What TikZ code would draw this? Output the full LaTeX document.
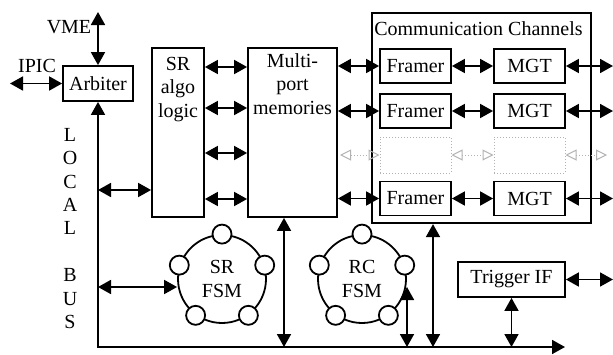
\documentclass[tikz,border=0pt]{standalone}
\usepackage{fontspec}
\setmainfont{Liberation Serif}
\usetikzlibrary{arrows.meta}
\begin{document}
\begin{tikzpicture}[x=1pt,y=-1pt,
  font=\fontsize{20}{23.5}\selectfont,
  box/.style={draw, line width=1.8pt, inner sep=0pt},
  dbl/.style={line width=1.8pt, {Triangle[length=13pt,width=14pt]}-{Triangle[length=13pt,width=14pt]}},
  fadedbox/.style={draw=black!30, dotted, line width=1pt, inner sep=0pt},
  fadedarr/.style={draw=black!30, dotted, line width=1pt, {Triangle[open,length=11pt,width=11pt]}-{Triangle[open,length=11pt,width=11pt]}},
  state/.style={draw, circle, line width=1.8pt, fill=white, minimum size=19pt, inner sep=0pt},
  fsm/.style={draw, circle, line width=1.8pt, minimum size=88pt, inner sep=0pt, align=center},
  txt/.style={inner sep=0pt, align=center}
]
\useasboundingbox (0,0) rectangle (613,354);

% Arbiter and external links
\node[box, minimum width=70pt, minimum height=35pt] (arb) at (98,83.5) {Arbiter};
\node[txt] (vme) at (69,27) {VME};
\coordinate (vmeend) at (98,12);
\draw[dbl] (arb.north) -- (vmeend);
\node[txt] (ipic) at (37,66) {IPIC};
\coordinate (ipicend) at (10,83.5);
\draw[dbl] (arb.west) -- (ipicend);

% local bus label
\node[txt, font=\fontsize{20}{23.4}\selectfont] (lb) at (70,228.5) {L\\O\\C\\A\\L\\[23.4pt]B\\U\\S};

% SR algo logic
\node[box, minimum width=52pt, minimum height=169pt] (sr) at (178,132.5) {};
\node[txt, anchor=north] (srt) at (178,57) {SR\\algo\\logic};

% Multi-port memories
\node[box, minimum width=89pt, minimum height=169pt] (mp) at (292.5,132.5) {};
\node[txt, anchor=north] (mpt) at (292.5,53) {Multi-\\port\\memories};

% SR <-> MP arrows
\coordinate (r1) at (0,67);
\coordinate (r2) at (0,108);
\coordinate (r3) at (0,153);
\coordinate (r4) at (0,199);
\draw[dbl] (sr.east |- r1) -- (mp.west |- r1);
\draw[dbl] (sr.east |- r2) -- (mp.west |- r2);
\draw[dbl] (sr.east |- r3) -- (mp.west |- r3);
\draw[dbl] (sr.east |- r4) -- (mp.west |- r4);

% Communication channels
\node[draw, line width=2.2pt, inner sep=0pt, minimum width=219pt, minimum height=210pt] (cc) at (481.5,118) {};
\node[txt] (cct) at (478.5,28.5) {Communication Channels};

\node[box, minimum width=71pt, minimum height=34pt] (f1) at (415.5,66) {Framer};
\node[box, minimum width=71pt, minimum height=34pt] (m1) at (529.5,66) {MGT};
\node[box, minimum width=71pt, minimum height=34pt] (f2) at (415.5,111) {Framer};
\node[box, minimum width=71pt, minimum height=34pt] (m2) at (529.5,111) {MGT};
\node[fadedbox, minimum width=71pt, minimum height=36pt] (f3) at (415.5,155) {};
\node[fadedbox, minimum width=71pt, minimum height=36pt] (m3) at (529.5,155) {};
\node[box, minimum width=71pt, minimum height=34pt] (f4) at (415.5,198.5) {Framer};
\node[box, minimum width=71pt, minimum height=34pt] (m4) at (529.5,198.5) {MGT};

\coordinate (o1) at (613,66);
\coordinate (o2) at (613,111);
\coordinate (o3) at (607,155);
\coordinate (o4) at (613,198.5);
\coordinate (i3) at (340,155);

\draw[dbl] (mp.east |- f1.west) -- (f1.west);
\draw[dbl] (f1) -- (m1);
\draw[dbl] (m1.east) -- (o1);
\draw[dbl] (mp.east |- f2.west) -- (f2.west);
\draw[dbl] (f2) -- (m2);
\draw[dbl] (m2.east) -- (o2);
\draw[fadedarr] (i3) -- (f3.west);
\draw[fadedarr] (f3) -- (m3);
\draw[fadedarr] (m3.east) -- (o3);
\draw[dbl] (mp.east |- f4.west) -- (f4.west);
\draw[dbl] (f4) -- (m4);
\draw[dbl] (m4.east) -- (o4);

% Local bus
\coordinate (buscorner) at (98,347);
\coordinate (busend) at (565,347);
\draw[dbl] (arb.south) -- (buscorner) -- (busend);

\coordinate (b1) at (98,190);
\draw[dbl] (b1) -- (sr.west |- b1);

% FSMs
\node[fsm] (srfsm) at (222,279) {SR\\FSM};
\node[fsm] (rcfsm) at (362,279) {RC\\FSM};
\foreach \a/\n in {90/1,162/2,234/3,306/4,18/5}{
  \node[state] (sa\n) at (srfsm.\a) {};
  \node[state] (ra\n) at (rcfsm.\a) {};
}
\coordinate (b2) at (98,287);
\draw[dbl] (b2) -- (srfsm.west |- b2);

\coordinate (c1) at (284,347);
\draw[dbl] (mp.south -| c1) -- (c1);

\coordinate (c2) at (407,347);
\coordinate (c2t) at (407,287);
\draw[dbl] (c2) -- (c2t);

\coordinate (c3) at (433,347);
\draw[dbl] (cc.south -| c3) -- (c3);

% Trigger IF
\node[box, minimum width=107pt, minimum height=35pt] (trig) at (511.5,279.5) {Trigger IF};
\coordinate (c4) at (511.5,347);
\draw[dbl] (trig.south) -- (c4);
\coordinate (o5) at (613,279.5);
\draw[dbl] (trig.east) -- (o5);
\end{tikzpicture}
\end{document}
